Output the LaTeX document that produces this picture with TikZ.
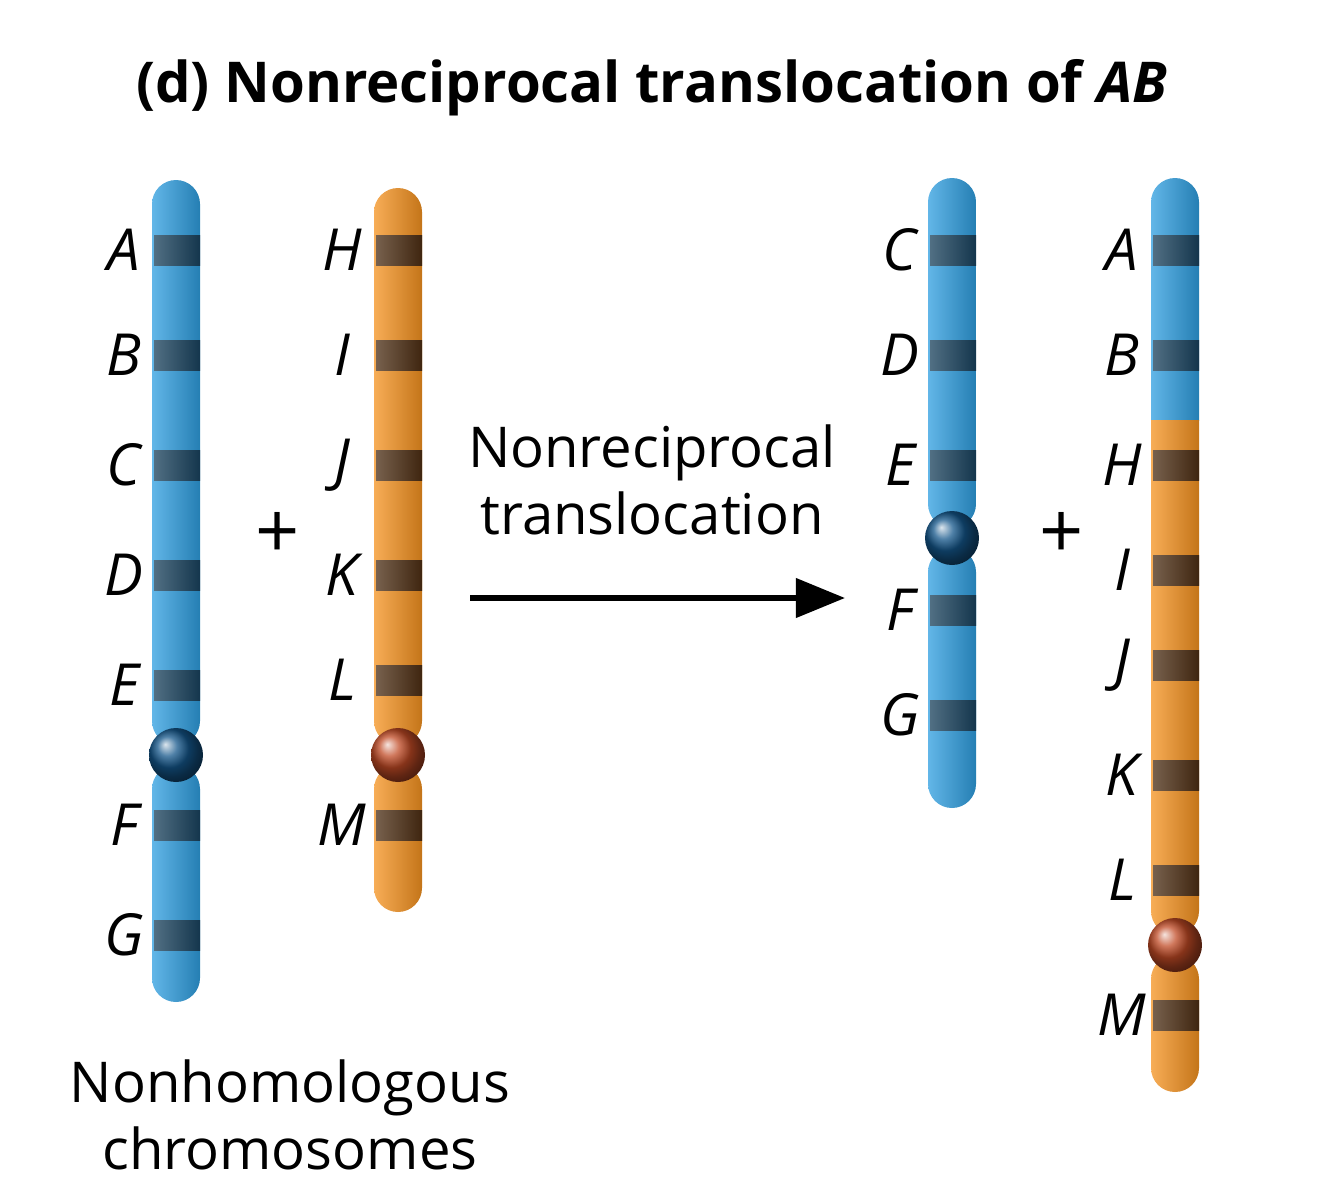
\documentclass[tikz,border=0pt]{standalone}
\usepackage{fontspec}
\setmainfont{Open Sans}
\usetikzlibrary{arrows.meta}
\definecolor{cblue}{HTML}{2E9EE0}
\definecolor{bblue}{HTML}{173F5A}
\definecolor{kblue}{HTML}{14568A}
\definecolor{corange}{HTML}{F5921F}
\definecolor{borange}{HTML}{4A2C12}
\definecolor{korange}{HTML}{C04A25}
\newcommand\myarm[4]{\shade[rounded corners=0.24cm,left color=#4!75!white,middle color=#4,right color=#4!80!black] (#1-24,#2) rectangle (#1+24,#3);}
\newcommand\myband[3]{\shade[left color=#3!75!white,middle color=#3,right color=#3!85!black] (#1-22,#2-15) rectangle (#1+24,#2+15);}
\newcommand\mycen[3]{\shade[ball color=#3] (#1,#2) circle (27);}
\tikzset{lab/.style={font=\fontsize{16.5}{20}\selectfont\itshape,anchor=center},
txt/.style={font=\fontsize{16}{19}\selectfont,align=center}}
\begin{document}
\begin{tikzpicture}[x=0.01cm,y=-0.01cm]
\useasboundingbox (0,0) rectangle (1325,1200);
\node[font=\fontsize{16}{20}\selectfont\bfseries] (title) at (652,88) {(d) Nonreciprocal translocation of \textit{AB}};
% chromosome 1
\myarm{176}{180}{745}{cblue}\myarm{176}{765}{1002}{cblue}
\foreach \y in {250,355,465,575,685,825,935}{\myband{176}{\y}{bblue}}
\mycen{176}{755}{kblue}
\foreach \l/\y in {A/250,B/355,C/465,D/575,E/685,F/825,G/935}{\node[lab] (a\l) at (124,\y) {\l};}
% chromosome 2
\myarm{398}{188}{745}{corange}\myarm{398}{765}{912}{corange}
\foreach \y in {250,355,465,575,680,825}{\myband{398}{\y}{borange}}
\mycen{398}{755}{korange}
\foreach \l/\y in {H/250,I/355,J/465,K/575,L/680,M/825}{\node[lab] (b\l) at (342,\y) {\l};}
\node[txt,font=\fontsize{22}{22}\selectfont] (p1) at (278,535) {+};
% arrow
\node[txt] (lbl) at (652,480) {Nonreciprocal\\translocation};
\coordinate (s) at (470,598); \coordinate (e) at (845,598);
\draw[line width=1.6pt,-{Triangle[length=14pt,width=11pt]}] (s) -- (e);
% chromosome 3
\myarm{952}{178}{528}{cblue}\myarm{952}{548}{808}{cblue}
\foreach \y in {250,355,465,610,715}{\myband{952}{\y}{bblue}}
\mycen{952}{538}{kblue}
\foreach \l/\y in {C/250,D/355,E/465,F/610,G/715}{\node[lab] (c\l) at (900,\y) {\l};}
\node[txt,font=\fontsize{22}{22}\selectfont] (p2) at (1062,535) {+};
% chromosome 4
\begin{scope}
\clip (1100,150) rectangle (1250,420);
\myarm{1175}{178}{935}{cblue}
\end{scope}
\begin{scope}
\clip (1100,420) rectangle (1250,1100);
\myarm{1175}{178}{935}{corange}
\end{scope}
\myarm{1175}{955}{1092}{corange}
\foreach \y in {250,355}{\myband{1175}{\y}{bblue}}
\foreach \y in {465,570,665,775,880,1015}{\myband{1175}{\y}{borange}}
\mycen{1175}{945}{korange}
\foreach \l/\y in {A/250,B/355,H/465,I/570,J/665,K/775,L/880,M/1015}{\node[lab] (d\l) at (1122,\y) {\l};}
\node[txt] (nh) at (290,1115) {Nonhomologous\\chromosomes};
\end{tikzpicture}
\end{document}
